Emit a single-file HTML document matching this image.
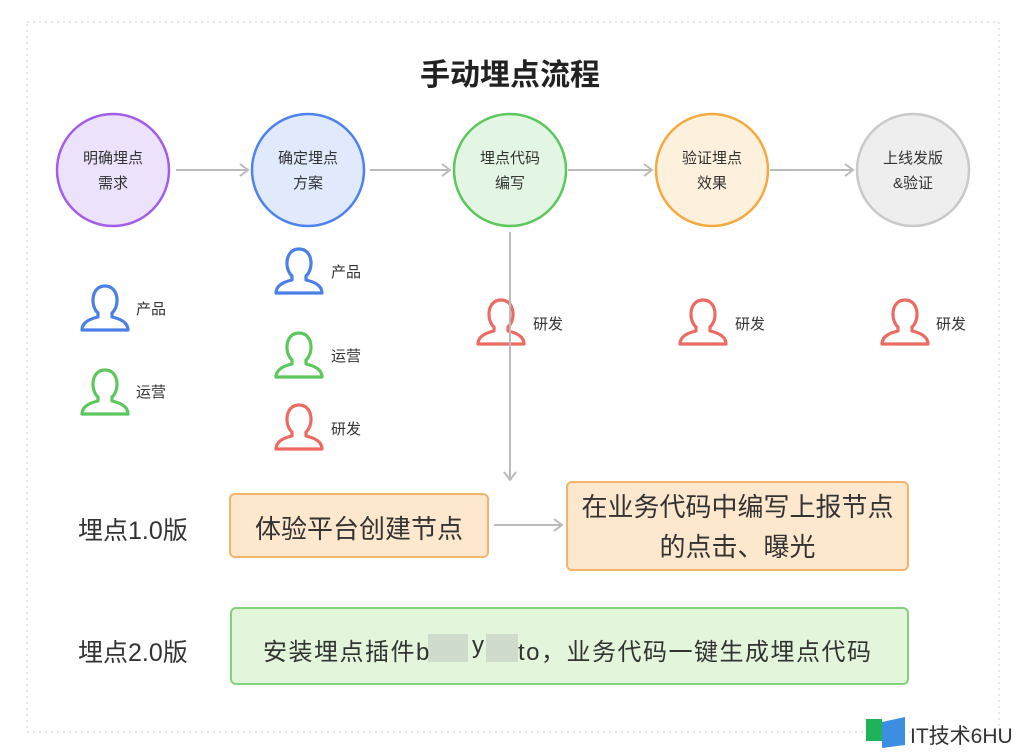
<!DOCTYPE html>
<html><head><meta charset="utf-8"><style>
html,body{margin:0;padding:0;background:#fff;}
body{width:1024px;height:753px;position:relative;overflow:hidden;font-family:"Liberation Sans","Noto Sans CJK SC",sans-serif;color:#333;}
.t{position:absolute;white-space:nowrap;}
</style></head><body>
<svg width="1024" height="753" style="position:absolute;left:0;top:0">
<defs>
<marker id="a" markerWidth="12" markerHeight="14" refX="10" refY="7" orient="auto" markerUnits="userSpaceOnUse">
<path d="M2,1 L10,7 L2,13" fill="none" stroke="#bbb" stroke-width="2"/></marker>
<g id="p"><path d="M18,31 C10,24 11,4 25,4 C39,4 40,24 32,31 L32,35 C41,37 48,41 48,48 L2,48 C2,41 9,37 18,35 Z" fill="none" stroke-width="3.2" stroke-linejoin="round"/></g>
</defs>
<rect x="27" y="22" width="972" height="710" fill="none" stroke="#ddd" stroke-width="1.5" stroke-dasharray="2,4"/>
<circle cx="113" cy="170" r="56" fill="#ede2fb" stroke="#a25ee6" stroke-width="2.5"/>
<circle cx="308" cy="170" r="56" fill="#e1eafc" stroke="#4e82ee" stroke-width="2.5"/>
<circle cx="510" cy="170" r="56" fill="#e3f6e3" stroke="#5cc75c" stroke-width="2.5"/>
<circle cx="712" cy="170" r="56" fill="#fdf0dd" stroke="#f5aa40" stroke-width="2.5"/>
<circle cx="913" cy="170" r="56" fill="#eeeeee" stroke="#c9c9c9" stroke-width="2.5"/>
<g stroke="#bbb" stroke-width="2" fill="none">
<line x1="176" y1="170" x2="248" y2="170" marker-end="url(#a)"/>
<line x1="370" y1="170" x2="450" y2="170" marker-end="url(#a)"/>
<line x1="568" y1="170" x2="652" y2="170" marker-end="url(#a)"/>
<line x1="770" y1="170" x2="853" y2="170" marker-end="url(#a)"/>
<line x1="510" y1="232" x2="510" y2="480" marker-end="url(#a)"/>
<line x1="494" y1="525" x2="562" y2="525" marker-end="url(#a)"/>
</g>
<use href="#p" x="80" y="282" stroke="#4a7fe8"/>
<use href="#p" x="80" y="366" stroke="#5cc75c"/>
<use href="#p" x="274" y="245" stroke="#4a7fe8"/>
<use href="#p" x="274" y="329" stroke="#5cc75c"/>
<use href="#p" x="274" y="401" stroke="#ec6a62"/>
<use href="#p" x="476" y="296" stroke="#ec6a62"/>
<use href="#p" x="678" y="296" stroke="#ec6a62"/>
<use href="#p" x="880" y="296" stroke="#ec6a62"/>
<line x1="510" y1="280" x2="510" y2="350" stroke="#bbb" stroke-width="2"/>
<rect x="230" y="494" width="258" height="63" rx="5" fill="#fde8cd" stroke="#f4b46c" stroke-width="2"/>
<rect x="567" y="482" width="341" height="88" rx="5" fill="#fde8cd" stroke="#f4b46c" stroke-width="2"/>
<rect x="231" y="608" width="677" height="76" rx="5" fill="#e3f6dc" stroke="#7fd47b" stroke-width="2"/>
<rect x="428" y="634" width="40" height="28" fill="#cfdccc"/>
<rect x="486" y="634" width="32" height="28" fill="#cfdccc"/>
<rect x="866" y="719" width="16" height="22" fill="#1eb35a"/>
<path d="M882,722 L905,717 L905,745 L882,748 Z" fill="#3c8fe0"/>
</svg>
<div class="t" style="left:420px;top:50px;font-size:30px;font-weight:bold;color:#222;">手动埋点流程</div>
<div class="t" style="left:57px;top:146px;width:112px;text-align:center;font-size:15px;line-height:25px;">明确埋点<br>需求</div>
<div class="t" style="left:252px;top:146px;width:112px;text-align:center;font-size:15px;line-height:25px;">确定埋点<br>方案</div>
<div class="t" style="left:454px;top:146px;width:112px;text-align:center;font-size:15px;line-height:25px;">埋点代码<br>编写</div>
<div class="t" style="left:656px;top:146px;width:112px;text-align:center;font-size:15px;line-height:25px;">验证埋点<br>效果</div>
<div class="t" style="left:857px;top:146px;width:112px;text-align:center;font-size:15px;line-height:25px;">上线发版<br>&amp;验证</div>
<div class="t" style="left:136px;top:298px;font-size:15px;">产品</div>
<div class="t" style="left:136px;top:381px;font-size:15px;">运营</div>
<div class="t" style="left:331px;top:261px;font-size:15px;">产品</div>
<div class="t" style="left:331px;top:345px;font-size:15px;">运营</div>
<div class="t" style="left:331px;top:418px;font-size:15px;">研发</div>
<div class="t" style="left:533px;top:313px;font-size:15px;">研发</div>
<div class="t" style="left:735px;top:313px;font-size:15px;">研发</div>
<div class="t" style="left:936px;top:313px;font-size:15px;">研发</div>
<div class="t" style="left:78px;top:511px;font-size:25px;">埋点1.0版</div>
<div class="t" style="left:78px;top:633px;font-size:25px;">埋点2.0版</div>
<div class="t" style="left:230px;top:509px;width:258px;text-align:center;font-size:26px;">体验平台创建节点</div>
<div class="t" style="left:567px;top:487px;width:341px;text-align:center;font-size:26px;line-height:40px;">在业务代码中编写上报节点<br>的点击、曝光</div>
<div class="t" style="left:263px;top:632px;font-size:24px;letter-spacing:1.5px;">安装埋点插件b</div>
<div class="t" style="left:472px;top:632px;font-size:24px;">y</div>
<div class="t" style="left:518px;top:632px;font-size:24px;letter-spacing:1.5px;">to，业务代码一键生成埋点代码</div>
<div class="t" style="left:910px;top:720px;font-size:21px;color:#333;">IT技术6HU</div>
</body></html>
